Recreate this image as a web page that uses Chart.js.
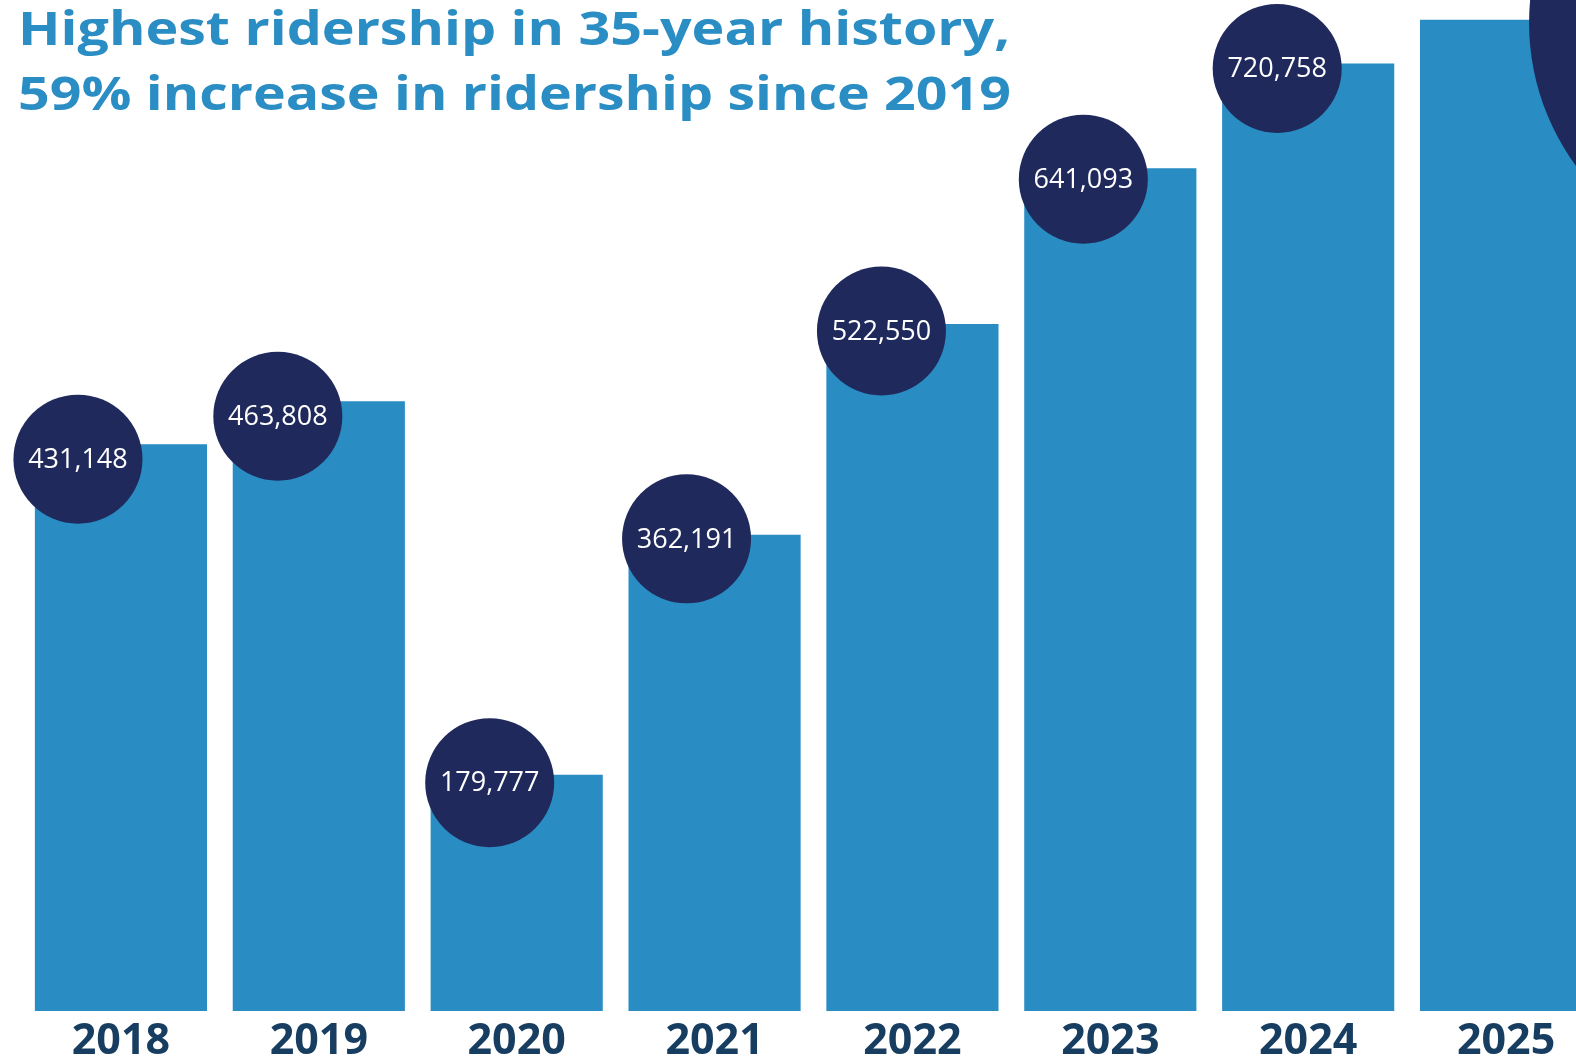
<!DOCTYPE html>
<html>
<head>
<meta charset="utf-8">
<script src="https://cdn.jsdelivr.net/npm/chart.js@4/dist/chart.umd.min.js"></script>
<style>
html, body { margin: 0; padding: 0; overflow: hidden; background: #fff; }
canvas { display: block; }
</style>
</head>
<body>
<canvas id="ridership" width="1606" height="1059"></canvas>
<script>
const years = ['2018', '2019', '2020', '2021', '2022', '2023', '2024', '2025'];
const riders = [431148, 463808, 179777, 362191, 522550, 641093, 720758, 754000];
const titleLines = ['Highest ridership in 35-year history,', '59% increase in ridership since 2019'];

// where each value bubble sits relative to the top of its bar (last one is the big cut-off circle)
const bubbleDx = [-43, -41, -27, -28, -31, -27, -31, 265];
const bubbleDy = [15, 15, 8, 4, 7, 11, 5, 3];
const bubbleR = [64.5, 64.5, 64.5, 64.5, 64.5, 64.5, 64.5, 242];

const BLUE = '#298cc2';
const NAVY = '#1f295c';

const bubbles = {
  id: 'bubbles',
  afterDatasetsDraw(chart) {
    const ctx = chart.ctx;
    const meta = chart.getDatasetMeta(0);
    ctx.save();
    meta.data.forEach((bar, i) => {
      const cx = bar.x + bubbleDx[i];
      const cy = bar.y + bubbleDy[i];
      ctx.beginPath();
      ctx.arc(cx, cy, bubbleR[i], 0, Math.PI * 2);
      ctx.fillStyle = NAVY;
      ctx.fill();
      ctx.fillStyle = '#ffffff';
      ctx.font = '400 27px "Open Sans"';
      ctx.textAlign = 'center';
      ctx.textBaseline = 'middle';
      ctx.fillText(riders[i].toLocaleString('en-US'), cx, cy + 1);
    });
    ctx.restore();
  }
};

const headline = {
  id: 'headline',
  afterDraw(chart) {
    const ctx = chart.ctx;
    ctx.save();
    ctx.font = '700 47px "Open Sans"';
    ctx.fillStyle = '#2a8dc3';
    ctx.textAlign = 'left';
    ctx.textBaseline = 'alphabetic';
    const baselines = [45, 110];
    const targetW = [992, 993];
    titleLines.forEach((line, i) => {
      const w = ctx.measureText(line).width;
      ctx.save();
      ctx.translate(18, baselines[i]);
      ctx.scale(targetW[i] / w, 1);
      ctx.fillText(line, 0, 0);
      ctx.restore();
    });
    ctx.restore();
  }
};

new Chart(document.getElementById('ridership'), {
  type: 'bar',
  data: {
    labels: years,
    datasets: [{
      label: 'Ridership',
      data: riders,
      backgroundColor: BLUE,
      borderWidth: 0,
      barPercentage: 0.87,
      categoryPercentage: 1
    }]
  },
  options: {
    responsive: false,
    animation: false,
    devicePixelRatio: 1,
    layout: { padding: { left: 22, right: 1, top: 0, bottom: -13 } },
    plugins: {
      legend: { display: false },
      tooltip: { enabled: false },
      title: { display: false }
    },
    scales: {
      x: {
        grid: { display: false, drawTicks: false },
        border: { display: false },
        ticks: {
          color: '#173e61',
          font: { family: 'Open Sans', weight: 'bold', size: 43, lineHeight: 1 },
          padding: 9,
          maxRotation: 0,
          autoSkip: false
        }
      },
      y: { display: false, min: 0, max: 769000 }
    }
  },
  plugins: [bubbles, headline]
});
</script>
</body>
</html>
